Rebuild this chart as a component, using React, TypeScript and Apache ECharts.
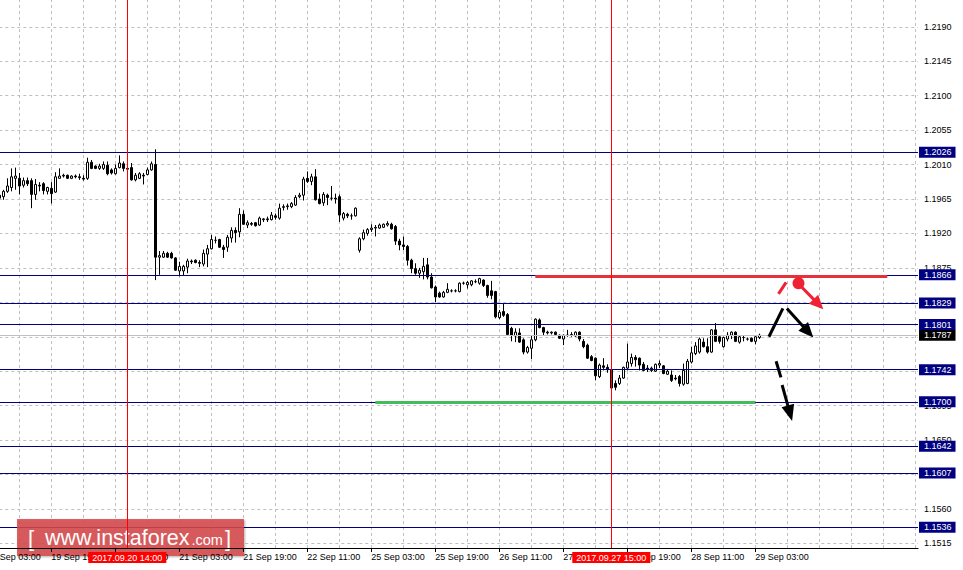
import React, { useEffect, useRef } from "react";
import * as echarts from "echarts";

// Hourly slots are counted from 19 Sep 03:00 (weekend hours skipped).
const FIRST_CANDLE_SLOT = 3; // first candle = 19 Sep 06:00

const openP = [
  1.1966, 1.1968, 1.1975, 1.1980, 1.1992, 1.1992, 1.1983, 1.1989, 1.1989, 1.1971,
  1.1983, 1.1985, 1.1975, 1.1979, 1.1974, 1.1992, 1.1995, 1.1996, 1.1992, 1.1995,
  1.1994, 1.1992, 1.1992, 1.2013, 1.2008, 1.2005, 1.2005, 1.2009, 1.2003, 1.1998,
  1.2006, 1.2011, 1.2005, 1.2006, 1.1990, 1.1992, 1.1996, 1.1997, 1.2003, 1.2010,
  1.1889, 1.1889, 1.1894, 1.1894, 1.1888, 1.1871, 1.1871, 1.1876, 1.1884, 1.1885,
  1.1882, 1.1880, 1.1893, 1.1900, 1.1911, 1.1912, 1.1902, 1.1902, 1.1914, 1.1924,
  1.1922, 1.1945, 1.1931, 1.1933, 1.1934, 1.1931, 1.1938, 1.1939, 1.1938, 1.1943,
  1.1940, 1.1954, 1.1955, 1.1955, 1.1957, 1.1968, 1.1970, 1.1992, 1.1988, 1.1994,
  1.1965, 1.1960, 1.1970, 1.1966, 1.1966, 1.1968, 1.1940, 1.1945, 1.1943, 1.1943,
  1.1898, 1.1913, 1.1920, 1.1925, 1.1927, 1.1927, 1.1928, 1.1931, 1.1932, 1.1929,
  1.1910, 1.1905, 1.1903, 1.1885, 1.1874, 1.1868, 1.1870, 1.1879, 1.1863, 1.1850,
  1.1842, 1.1837, 1.1843, 1.1845, 1.1845, 1.1844, 1.1855, 1.1853, 1.1853, 1.1857,
  1.1855, 1.1859, 1.1852, 1.1845, 1.1844, 1.1810, 1.1818, 1.1814, 1.1796, 1.1786,
  1.1790, 1.1781, 1.1765, 1.1770, 1.1781, 1.1807, 1.1797, 1.1791, 1.1790, 1.1791,
  1.1787, 1.1782, 1.1787, 1.1787, 1.1786, 1.1791, 1.1779, 1.1774, 1.1759, 1.1757,
  1.1733, 1.1747, 1.1745, 1.1742, 1.1724, 1.1724, 1.1731, 1.1744, 1.1750, 1.1758,
  1.1757, 1.1749, 1.1744, 1.1744, 1.1740, 1.1748, 1.1747, 1.1736, 1.1735, 1.1731,
  1.1733, 1.1723, 1.1724, 1.1752, 1.1763, 1.1765, 1.1778, 1.1772, 1.1765, 1.1794,
  1.1785, 1.1772, 1.1782, 1.1787, 1.1791, 1.1778, 1.1784, 1.1782, 1.1783, 1.1779,
  1.1784,
];
const highP = [
  1.1972, 1.1977, 1.1992, 1.2005, 1.2006, 1.1999, 1.1993, 1.1993, 1.1992, 1.1991,
  1.1987, 1.1987, 1.1981, 1.1987, 1.2000, 1.2005, 1.1998, 1.1997, 1.1996, 1.1997,
  1.1998, 1.1996, 1.2019, 1.2016, 1.2009, 1.2011, 1.2014, 1.2014, 1.2005, 1.2010,
  1.2022, 1.2014, 1.2008, 1.2012, 1.1999, 1.2000, 1.1999, 1.2006, 1.2014, 1.2030,
  1.1897, 1.1897, 1.1896, 1.1896, 1.1889, 1.1883, 1.1879, 1.1887, 1.1886, 1.1886,
  1.1885, 1.1899, 1.1905, 1.1918, 1.1916, 1.1913, 1.1905, 1.1918, 1.1928, 1.1928,
  1.1953, 1.1950, 1.1937, 1.1935, 1.1935, 1.1942, 1.1940, 1.1942, 1.1948, 1.1946,
  1.1959, 1.1958, 1.1959, 1.1961, 1.1970, 1.1973, 1.1994, 1.2001, 1.1998, 1.2004,
  1.1972, 1.1974, 1.1972, 1.1982, 1.1972, 1.1971, 1.1948, 1.1947, 1.1946, 1.1954,
  1.1915, 1.1925, 1.1927, 1.1932, 1.1931, 1.1933, 1.1933, 1.1936, 1.1934, 1.1931,
  1.1913, 1.1916, 1.1905, 1.1887, 1.1881, 1.1875, 1.1888, 1.1888, 1.1868, 1.1852,
  1.1844, 1.1845, 1.1855, 1.1847, 1.1847, 1.1856, 1.1857, 1.1858, 1.1859, 1.1860,
  1.1862, 1.1860, 1.1853, 1.1858, 1.1845, 1.1820, 1.1829, 1.1816, 1.1798, 1.1796,
  1.1796, 1.1783, 1.1773, 1.1786, 1.1809, 1.1809, 1.1798, 1.1793, 1.1792, 1.1792,
  1.1788, 1.1788, 1.1794, 1.1791, 1.1792, 1.1792, 1.1782, 1.1776, 1.1761, 1.1758,
  1.1750, 1.1757, 1.1749, 1.1746, 1.1728, 1.1735, 1.1746, 1.1776, 1.1763, 1.1761,
  1.1758, 1.1752, 1.1748, 1.1746, 1.1750, 1.1754, 1.1748, 1.1743, 1.1741, 1.1735,
  1.1735, 1.1750, 1.1756, 1.1772, 1.1778, 1.1784, 1.1783, 1.1783, 1.1795, 1.1803,
  1.1787, 1.1785, 1.1791, 1.1792, 1.1792, 1.1787, 1.1786, 1.1784, 1.1784, 1.1787,
  1.1789,
];
const lowP = [
  1.1962, 1.1964, 1.1973, 1.1975, 1.1977, 1.1971, 1.1980, 1.1982, 1.1953, 1.1964,
  1.1975, 1.1971, 1.1971, 1.1959, 1.1973, 1.1992, 1.1993, 1.1991, 1.1991, 1.1992,
  1.1990, 1.1989, 1.1990, 1.2004, 1.2004, 1.2003, 1.2003, 1.1996, 1.1997, 1.1997,
  1.2005, 1.2001, 1.1999, 1.1989, 1.1988, 1.1991, 1.1984, 1.1996, 1.2002, 1.1859,
  1.1866, 1.1888, 1.1888, 1.1887, 1.1871, 1.1864, 1.1865, 1.1868, 1.1880, 1.1881,
  1.1876, 1.1877, 1.1876, 1.1899, 1.1907, 1.1901, 1.1888, 1.1896, 1.1908, 1.1908,
  1.1915, 1.1931, 1.1927, 1.1930, 1.1929, 1.1930, 1.1935, 1.1935, 1.1937, 1.1938,
  1.1938, 1.1950, 1.1951, 1.1953, 1.1956, 1.1966, 1.1963, 1.1986, 1.1983, 1.1963,
  1.1958, 1.1956, 1.1957, 1.1963, 1.1959, 1.1935, 1.1937, 1.1940, 1.1938, 1.1942,
  1.1895, 1.1911, 1.1917, 1.1922, 1.1916, 1.1926, 1.1927, 1.1929, 1.1925, 1.1905,
  1.1898, 1.1898, 1.1878, 1.1868, 1.1866, 1.1862, 1.1860, 1.1860, 1.1848, 1.1830,
  1.1836, 1.1836, 1.1842, 1.1843, 1.1843, 1.1843, 1.1853, 1.1848, 1.1851, 1.1855,
  1.1853, 1.1850, 1.1836, 1.1834, 1.1809, 1.1808, 1.1811, 1.1786, 1.1779, 1.1778,
  1.1777, 1.1762, 1.1763, 1.1756, 1.1779, 1.1796, 1.1786, 1.1788, 1.1788, 1.1787,
  1.1782, 1.1774, 1.1785, 1.1785, 1.1785, 1.1779, 1.1770, 1.1756, 1.1753, 1.1728,
  1.1731, 1.1741, 1.1738, 1.1715, 1.1715, 1.1722, 1.1730, 1.1741, 1.1746, 1.1746,
  1.1741, 1.1740, 1.1739, 1.1739, 1.1739, 1.1744, 1.1736, 1.1735, 1.1726, 1.1728,
  1.1720, 1.1721, 1.1723, 1.1750, 1.1761, 1.1763, 1.1771, 1.1763, 1.1764, 1.1778,
  1.1776, 1.1771, 1.1779, 1.1782, 1.1778, 1.1776, 1.1779, 1.1780, 1.1778, 1.1775,
  1.1782,
];
const closeP = [
  1.1970, 1.1975, 1.1982, 1.1994, 1.1995, 1.1982, 1.1989, 1.1985, 1.1971, 1.1984,
  1.1982, 1.1976, 1.1980, 1.1972, 1.1994, 1.1995, 1.1996, 1.1992, 1.1995, 1.1994,
  1.1993, 1.1991, 1.2013, 1.2005, 1.2005, 1.2008, 1.2010, 1.1998, 1.1999, 1.2005,
  1.2012, 1.2005, 1.2004, 1.1990, 1.1996, 1.1998, 1.1995, 1.2003, 1.2011, 1.1889,
  1.1891, 1.1894, 1.1889, 1.1888, 1.1872, 1.1877, 1.1877, 1.1884, 1.1883, 1.1882,
  1.1881, 1.1894, 1.1900, 1.1912, 1.1911, 1.1902, 1.1899, 1.1915, 1.1924, 1.1921,
  1.1945, 1.1932, 1.1934, 1.1932, 1.1930, 1.1940, 1.1939, 1.1938, 1.1944, 1.1941,
  1.1953, 1.1955, 1.1956, 1.1959, 1.1967, 1.1970, 1.1991, 1.1988, 1.1994, 1.1964,
  1.1959, 1.1971, 1.1967, 1.1966, 1.1965, 1.1944, 1.1946, 1.1943, 1.1943, 1.1953,
  1.1913, 1.1921, 1.1925, 1.1927, 1.1928, 1.1931, 1.1932, 1.1933, 1.1926, 1.1910,
  1.1905, 1.1903, 1.1885, 1.1874, 1.1868, 1.1872, 1.1877, 1.1863, 1.1849, 1.1837,
  1.1837, 1.1843, 1.1847, 1.1845, 1.1845, 1.1855, 1.1855, 1.1856, 1.1858, 1.1857,
  1.1861, 1.1852, 1.1839, 1.1839, 1.1811, 1.1817, 1.1813, 1.1788, 1.1787, 1.1791,
  1.1778, 1.1765, 1.1771, 1.1781, 1.1808, 1.1797, 1.1791, 1.1790, 1.1791, 1.1788,
  1.1783, 1.1787, 1.1787, 1.1788, 1.1791, 1.1782, 1.1772, 1.1757, 1.1754, 1.1734,
  1.1748, 1.1745, 1.1742, 1.1718, 1.1719, 1.1731, 1.1745, 1.1752, 1.1758, 1.1755,
  1.1748, 1.1741, 1.1743, 1.1741, 1.1749, 1.1750, 1.1737, 1.1740, 1.1728, 1.1730,
  1.1724, 1.1741, 1.1753, 1.1764, 1.1773, 1.1782, 1.1772, 1.1765, 1.1794, 1.1779,
  1.1779, 1.1784, 1.1787, 1.1791, 1.1779, 1.1785, 1.1784, 1.1782, 1.1779, 1.1785,
  1.1787,
];

const xTickSlots = [0, 16, 32, 48, 64, 80, 96, 112, 128, 144, 160, 176, 192];
const xTickLabels = [
  "19 Sep 03:00", "19 Sep 19:00", "20 Sep 11:00", "21 Sep 03:00", "21 Sep 19:00",
  "22 Sep 11:00", "25 Sep 03:00", "25 Sep 19:00", "26 Sep 11:00", "27 Sep 03:00",
  "27 Sep 19:00", "28 Sep 11:00", "29 Sep 03:00",
];
const priceTicks = [
  1.1515, 1.156, 1.1605, 1.165, 1.1695, 1.174, 1.1785, 1.183,
  1.1875, 1.192, 1.1965, 1.201, 1.2055, 1.21, 1.2145, 1.219,
];
const levelPrices = [1.2026, 1.1866, 1.1829, 1.1801, 1.1742, 1.17, 1.1642, 1.1607, 1.1536];
const bidPrice = 1.1787;
const markerSlots = [35, 156];
const markerLabels = ["2017.09.20 14:00", "2017.09.27 15:00"];
const resistanceSeg = { from: 137, to: 225, price: 1.18645 };
const supportSeg = { from: 97, to: 192, price: 1.17 };

// hand-drawn forecast arrows, in [slot, price]
const redDash = [[197.8, 1.1841], [199.7, 1.1856]];
const redDot = [202.8, 1.1855];
const redArrow = [[203.4, 1.1851], [209.0, 1.1821]];
const blackUp = [[195.4, 1.1785], [198.9, 1.1822]];
const blackDown = [[199.9, 1.1822], [206.5, 1.1784]];
const blackDash1 = [[197.2, 1.1753], [198.4, 1.1732]];
const blackDash2 = [[198.7, 1.1722], [201.2, 1.1675]];

const FONT = "Liberation Sans";

export default function App() {
  const ref = useRef<HTMLDivElement>(null);
  useEffect(() => {
    document.body.style.margin = "0";
    const chart = echarts.init(ref.current!, null, { renderer: "svg", width: 963, height: 570 });
    const candleData = openP.map((o, i) => [i + FIRST_CANDLE_SLOT, o, closeP[i], lowP[i], highP[i]]);
    const vGrid: any[] = [];
    for (let s = 8; s <= 232; s += 8) vGrid.push({ xAxis: s });
    const hGrid = priceTicks.map((p) => ({ yAxis: p }));

    const option: any = {
      animation: false,
      backgroundColor: "#ffffff",
      textStyle: { fontFamily: FONT },
      grid: { left: -12.7, top: 0, width: 930.7, height: 548, containLabel: false, outerBoundsMode: "none" },
      xAxis: {
        type: "value",
        min: 0,
        max: 232.675,
        interval: 8,
        z: 10,
        axisLine: { show: true, onZero: false, lineStyle: { color: "#000", width: 1 } },
        axisTick: { show: true, customValues: xTickSlots, length: 4, lineStyle: { color: "#000" } },
        axisLabel: {
          customValues: xTickSlots,
          formatter: (v: number) => {
            const k = xTickSlots.indexOf(Math.round(v));
            return k >= 0 ? xTickLabels[k] : "";
          },
          align: "left",
          margin: 4,
          fontSize: 9,
          color: "#000",
          fontFamily: FONT,
        },
        splitLine: { show: false },
      },
      yAxis: {
        type: "value",
        position: "right",
        min: 1.1509,
        max: 1.2225,
        z: 3,
        axisLine: { show: true, lineStyle: { color: "#000" } },
        axisTick: { show: true, customValues: priceTicks, length: 3, lineStyle: { color: "#000" } },
        axisLabel: {
          customValues: priceTicks,
          formatter: (v: number) => v.toFixed(4),
          margin: 6,
          fontSize: 9,
          color: "#000",
          fontFamily: FONT,
        },
        splitLine: { show: false },
      },
      series: [
        {
          type: "line",
          data: [],
          z: 1,
          silent: true,
          markLine: {
            z: 1,
            precision: 5,
            silent: true,
            symbol: "none",
            label: { show: false },
            lineStyle: { color: "#c0c0c0", type: [3, 3], width: 1 },
            data: [...vGrid, ...hGrid],
          },
        },
        {
          type: "candlestick",
          data: candleData,
          z: 2,
          silent: true,
          barWidth: 2,
          itemStyle: { color: "#ffffff", color0: "#000000", borderColor: "#000000", borderColor0: "#000000", borderWidth: 1 },
        },
        {
          type: "line",
          data: [],
          z: 4,
          silent: true,
          markLine: {
            z: 4,
            precision: 5,
            silent: true,
            symbol: "none",
            lineStyle: { color: "#000080", width: 1, type: "solid" },
            label: {
              show: true,
              position: "end",
              distance: 1,
              formatter: (p: any) => Number(p.value).toFixed(4),
              backgroundColor: "#000080",
              color: "#ffffff",
              fontSize: 9,
              fontFamily: FONT,
              lineHeight: 10,
              padding: [1, 4, 0, 5],
            },
            data: [
              { yAxis: bidPrice, lineStyle: { color: "#c0c0c0" }, label: { backgroundColor: "#000000" } },
              ...levelPrices.map((p) => ({ yAxis: p })),
            ],
          },
        },
        {
          type: "line",
          data: [],
          z: 4,
          silent: true,
          markLine: {
            z: 4,
            precision: 5,
            silent: true,
            symbol: "none",
            label: { show: false },
            data: [
              [
                { coord: [resistanceSeg.from, resistanceSeg.price], lineStyle: { color: "#e8303a", width: 3, type: "solid" } },
                { coord: [resistanceSeg.to, resistanceSeg.price] },
              ],
              [
                { coord: [supportSeg.from, supportSeg.price], lineStyle: { color: "#45bb5c", width: 3, type: "solid" } },
                { coord: [supportSeg.to, supportSeg.price] },
              ],
            ],
          },
        },
        {
          type: "line",
          data: [],
          z: 11,
          silent: true,
          markLine: {
            z: 11,
            precision: 5,
            silent: true,
            symbol: "none",
            lineStyle: { color: "#ff0000", width: 1, type: "solid" },
            label: {
              show: true,
              position: "start",
              distance: 4,
              backgroundColor: "#ff0000",
              color: "#ffffff",
              fontSize: 9,
              fontFamily: FONT,
              lineHeight: 10,
              padding: [1, 4, 0, 4],
            },
            data: markerSlots.map((s, k) => ({ xAxis: s, label: { formatter: markerLabels[k] } })),
          },
        },
      ],
    };
    chart.setOption(option);

    const toPx = (p: number[]) => chart.convertToPixel({ gridIndex: 0 }, p) as number[];
    const seg = (a: number[], b: number[], color: string) => ({
      type: "line",
      z: 20,
      silent: true,
      shape: { x1: a[0], y1: a[1], x2: b[0], y2: b[1] },
      style: { stroke: color, lineWidth: 3, lineCap: "butt" },
    });
    const arrow = (pts: number[][], color: string, len: number, hw: number) => {
      const a = toPx(pts[0]);
      const tip = toPx(pts[1]);
      const dx = tip[0] - a[0];
      const dy = tip[1] - a[1];
      const d = Math.hypot(dx, dy);
      const ux = dx / d;
      const uy = dy / d;
      const bx = tip[0] - ux * len;
      const by = tip[1] - uy * len;
      return [
        seg(a, [bx + ux * 2, by + uy * 2], color),
        {
          type: "polygon",
          z: 20,
          silent: true,
          shape: { points: [[tip[0], tip[1]], [bx - uy * hw, by + ux * hw], [bx + uy * hw, by - ux * hw]] },
          style: { fill: color },
        },
      ];
    };
    const red = "#ee2233";
    const dot = toPx(redDot);
    const graphics: any[] = [
      {
        type: "rect",
        z: 5,
        silent: true,
        shape: { x: 17, y: 519, width: 227, height: 37 },
        style: {
          fill: "rgba(214, 72, 74, 0.85)",
          shadowBlur: 2,
          shadowColor: "rgba(0,0,0,0.35)",
          shadowOffsetX: 1,
          shadowOffsetY: 1,
        },
      },
      { type: "text", z: 6, silent: true, x: 28, y: 538, style: { text: "[", fill: "#fff", fontSize: 22, fontFamily: FONT, verticalAlign: "middle" } },
      { type: "text", z: 6, silent: true, x: 45, y: 537.5, style: { text: "www.instaforex", fill: "#fff", fontSize: 21.5, fontFamily: FONT, verticalAlign: "middle" } },
      { type: "text", z: 6, silent: true, x: 191.5, y: 540, style: { text: ".com", fill: "#fff", fontSize: 14.5, fontFamily: FONT, verticalAlign: "middle" } },
      { type: "text", z: 6, silent: true, x: 225, y: 538, style: { text: "]", fill: "#fff", fontSize: 22, fontFamily: FONT, verticalAlign: "middle" } },
      seg(toPx(redDash[0]), toPx(redDash[1]), red),
      { type: "circle", z: 20, silent: true, shape: { cx: dot[0], cy: dot[1], r: 6 }, style: { fill: red } },
      ...arrow(redArrow, red, 14, 6.5),
      seg(toPx(blackUp[0]), toPx(blackUp[1]), "#000"),
      ...arrow(blackDown, "#000", 15, 6.5),
      seg(toPx(blackDash1[0]), toPx(blackDash1[1]), "#000"),
      ...arrow(blackDash2, "#000", 16, 6.5),
    ];
    chart.setOption({ graphic: graphics });

    return () => chart.dispose();
  }, []);

  return (
    <div
      ref={ref}
      style={{ position: "absolute", left: 0, top: 0, width: 963, height: 570, background: "#fff" }}
    />
  );
}
